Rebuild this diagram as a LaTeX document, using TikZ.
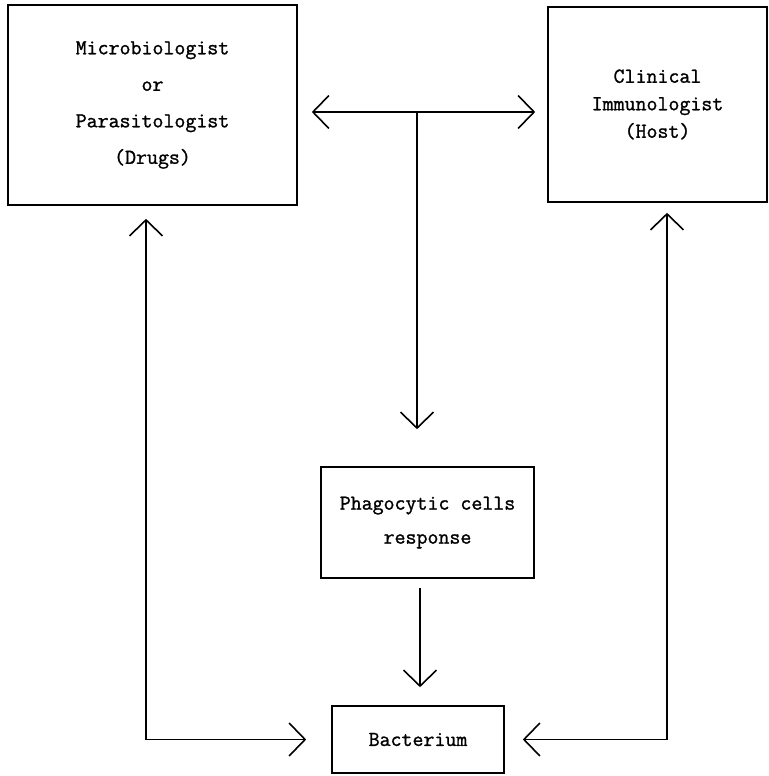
\documentclass[tikz,border=0pt]{standalone}
\usepackage{fontspec}
\newfontfamily\tw[FakeBold=1.2]{Latin Modern Mono}
\usetikzlibrary{arrows.meta}
\begin{document}
\begin{tikzpicture}[x=1pt,y=-1pt,
  box/.style={draw, line width=1.6pt, rectangle, inner sep=0pt, align=center},
  conn/.style={line width=1.6pt, arrows={-Straight Barb[length=16pt,width=33pt]}},
  conn2/.style={line width=1.6pt, arrows={Straight Barb[length=16pt,width=33pt]-Straight Barb[length=16pt,width=33pt]}}]
\useasboundingbox (0,0) rectangle (768,776);
\fill[white] (0,0) rectangle (768,776);
\node[box, minimum width=289pt, minimum height=200pt, font={\tw\fontsize{21.3}{36.5}\selectfont}] (micro) at (152.5,105)
  {Microbiologist\\or\\Parasitologist\\(Drugs)};
\node[box, minimum width=219pt, minimum height=195pt, font={\tw\fontsize{21.3}{27.5}\selectfont}] (immu) at (657.5,104.5)
  {Clinical\\Immunologist\\(Host)};
\node[box, minimum width=213pt, minimum height=111pt, font={\tw\fontsize{21.3}{34}\selectfont}] (phago) at (427.5,522.5)
  {Phagocytic cells\\response};
\node[box, minimum width=172pt, minimum height=67pt, font={\tw\fontsize{21.3}{22}\selectfont}] (bact) at (418,739.5)
  {Bacterium};
\coordinate (hy) at (0,112);
\coordinate (j) at (417,112);
\coordinate (lx) at (146,0);
\coordinate (rx) at (667,0);
\coordinate (mx) at (420,0);
\draw[conn2, shorten <=14pt, shorten >=12pt] (micro.east |- hy) -- (immu.west |- hy);
\draw[conn, shorten >=37pt] (j) -- (phago.north -| j);
\draw[conn2, shorten <=13pt, shorten >=25pt] (micro.south -| lx) |- (bact.west);
\draw[conn2, shorten <=10pt, shorten >=18pt] (immu.south -| rx) |- (bact.east);
\draw[conn, shorten <=9pt, shorten >=18pt] (phago.south -| mx) -- (bact.north -| mx);
\end{tikzpicture}
\end{document}
